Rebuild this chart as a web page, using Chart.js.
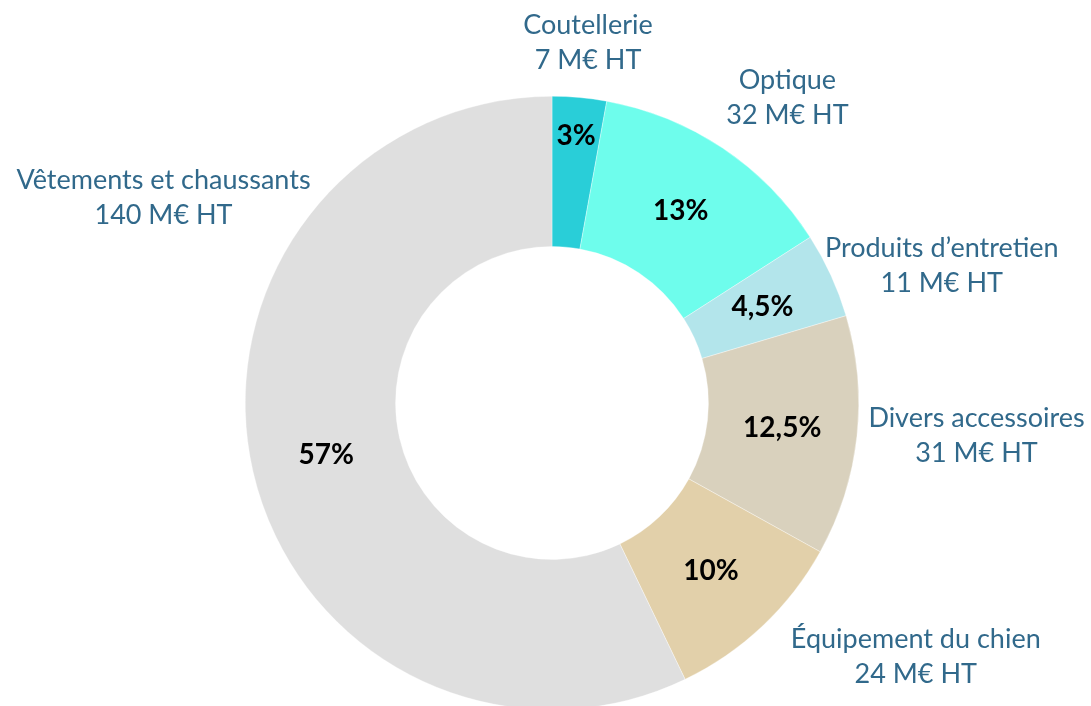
<!DOCTYPE html>
<html lang="fr">
<head>
<meta charset="utf-8">
<title>Répartition du chiffre d'affaires</title>
<script src="https://cdn.jsdelivr.net/npm/chart.js@4/dist/chart.umd.min.js"></script>
<style>
    html, body { margin: 0; padding: 0; background: #ffffff; overflow: hidden; }
    #wrap { position: relative; width: 1091px; height: 710px; }
</style>
</head>
<body>
<div id="wrap"><canvas id="graphCA"></canvas></div>
<script>
    // Catégories et chiffre d'affaires (M€ HT)
    const categories = ['Coutellerie', 'Optique', 'Produits d\u2019entretien', 'Divers accessoires', '\u00c9quipement du chien', 'V\u00eatements et chaussants'];
    const montants = [7, 32, 11, 31, 24, 140];
    const parts = ['3%', '13%', '4,5%', '12,5%', '10%', '57%'];
    const couleurs = ['#29CED8', '#6EFDEC', '#B3E5EB', '#D9D1BD', '#E2D0AA', '#DFDFDF'];

    // Emplacement des étiquettes extérieures : angle (degrés, depuis le haut) et distance (x rayon)
    const placements = [
        { angle: 5.7, dist: 1.182 },
        { angle: 37.6, dist: 1.258 },
        { angle: 70.5, dist: 1.348 },
        { angle: 94.4, dist: 1.388 },
        { angle: 124.9, dist: 1.446 },
        { angle: 297.9, dist: 1.433 }
    ];

    const police = 'Lato, "Open Sans", sans-serif';

    // Étiquettes : pourcentage dans l'anneau, catégorie + montant à l'extérieur
    const etiquettes = {
        id: 'etiquettes',
        afterDatasetsDraw(chart) {
            const ctx = chart.ctx;
            const arcs = chart.getDatasetMeta(0).data;
            ctx.save();
            ctx.textAlign = 'center';
            ctx.textBaseline = 'middle';
            arcs.forEach((arc, i) => {
                const p = arc.getProps(['x', 'y', 'startAngle', 'endAngle', 'innerRadius', 'outerRadius'], true);
                const mid = (p.startAngle + p.endAngle) / 2;
                // tranche trop fine : on pousse le pourcentage vers le bord extérieur
                const etroit = (p.endAngle - p.startAngle) < 0.25;
                const r = etroit ? p.outerRadius * 0.875 : (p.innerRadius + p.outerRadius) / 2;

                ctx.fillStyle = '#000000';
                ctx.font = 'bold 28px ' + police;
                ctx.fillText(parts[i], p.x + Math.cos(mid) * r, p.y + Math.sin(mid) * r);

                const pl = placements[i];
                const a = (pl.angle - 90) * Math.PI / 180;
                const lx = p.x + Math.cos(a) * p.outerRadius * pl.dist;
                const ly = p.y + Math.sin(a) * p.outerRadius * pl.dist;
                ctx.fillStyle = '#31698B';
                ctx.font = '27px ' + police;
                ctx.fillText(categories[i], lx, ly - 17);
                ctx.fillText(montants[i] + ' M\u20ac HT', lx, ly + 18);
            });
            ctx.restore();
        }
    };

    function graph() {
        const ctx = document.getElementById('graphCA').getContext('2d');
        new Chart(ctx, {
            type: 'doughnut',
            data: {
                labels: categories,
                datasets: [{
                    data: montants,
                    backgroundColor: couleurs,
                    borderColor: 'rgba(255, 255, 255, 0.7)',
                    borderWidth: 0.5
                }]
            },
            options: {
                responsive: true,
                maintainAspectRatio: false,
                animation: false,
                cutout: '51%',
                layout: {
                    padding: { top: 96, left: 245, right: 232, bottom: 0 }
                },
                plugins: {
                    legend: { display: false },
                    tooltip: { enabled: false }
                }
            },
            plugins: [etiquettes]
        });
    }

    document.addEventListener('DOMContentLoaded', function() {
        graph();
    });
</script>
</body>
</html>
